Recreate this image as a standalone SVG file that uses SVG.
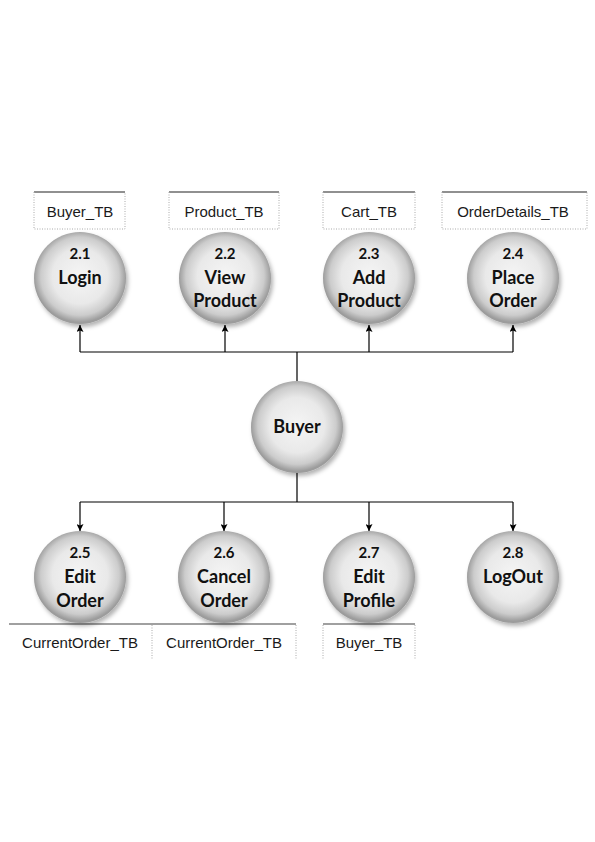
<svg xmlns="http://www.w3.org/2000/svg" width="595" height="842" viewBox="0 0 595 842">
<defs>
<radialGradient id="sph" cx="50%" cy="48%" r="50%">
<stop offset="0" stop-color="#f5f5f5"/>
<stop offset="0.6" stop-color="#e9e9e9"/>
<stop offset="0.85" stop-color="#cccccc"/>
<stop offset="1" stop-color="#9c9c9c"/>
</radialGradient>
<filter id="sh" x="-20%" y="-20%" width="150%" height="150%">
<feDropShadow dx="2" dy="3" stdDeviation="2" flood-color="#000" flood-opacity="0.3"/>
</filter>
<marker id="ah" viewBox="0 0 10 10" refX="10" refY="5" markerWidth="10" markerHeight="7" markerUnits="userSpaceOnUse" orient="auto">
<path d="M0,0 L10,5 L0,10 L2,5 Z" fill="#000"/>
</marker>
</defs>
<style>
.bub{fill:url(#sph);filter:url(#sh)}
.lbl{font-family:Lato,"Open Sans",sans-serif;font-weight:bold;font-size:18px;fill:#111;text-anchor:middle}
.num{font-size:15px}
.tb{font-family:"Liberation Sans",Arial,sans-serif;font-size:15px;fill:#1a1a1a;text-anchor:middle}
.dk{stroke:#222;stroke-width:1.2;fill:none}
.gr{stroke:#808080;stroke-width:1.6;fill:none}
.dot{stroke:#aaa;stroke-width:1;stroke-dasharray:1 1.5;fill:none}
.cn{stroke:#000;stroke-width:1.2;fill:none}
</style>
<rect width="595" height="842" fill="#fff"/>

<g id="stores">
<g id="store-buyer-top">
<line class="dk" x1="34" y1="192" x2="125" y2="192"/>
<path class="dot" d="M34,192 V229 H125 V192"/>
<text class="tb" x="80" y="217">Buyer_TB</text>
</g>
<g id="store-product">
<line class="dk" x1="169" y1="192" x2="279" y2="192"/>
<path class="dot" d="M169,192 V229 H279 V192"/>
<text class="tb" x="224" y="217">Product_TB</text>
</g>
<g id="store-cart">
<line class="dk" x1="323" y1="192" x2="415" y2="192"/>
<path class="dot" d="M323,192 V229 H415 V192"/>
<text class="tb" x="369" y="217">Cart_TB</text>
</g>
<g id="store-orderdetails">
<line class="dk" x1="442" y1="192" x2="587" y2="192"/>
<path class="dot" d="M442,192 V229 H587 V192"/>
<text class="tb" x="513" y="217">OrderDetails_TB</text>
</g>
<g id="store-current1">
<line class="gr" x1="9" y1="624" x2="152" y2="624"/>
<text class="tb" x="80" y="648">CurrentOrder_TB</text>
</g>
<g id="store-current2">
<line class="gr" x1="152" y1="624" x2="296" y2="624"/>
<path class="dot" d="M152,625 V660 M296,625 V660"/>
<text class="tb" x="224" y="648">CurrentOrder_TB</text>
</g>
<g id="store-buyer-bottom">
<line class="gr" x1="323" y1="624" x2="415" y2="624"/>
<path class="dot" d="M323,625 V660 M415,625 V660"/>
<text class="tb" x="369" y="648">Buyer_TB</text>
</g>
</g>

<g id="connectors">
<path class="cn" d="M297,382 V352 M80,352 H513"/>
<line class="cn" x1="80" y1="352" x2="80" y2="325" marker-end="url(#ah)"/>
<line class="cn" x1="225" y1="352" x2="225" y2="325" marker-end="url(#ah)"/>
<line class="cn" x1="369" y1="352" x2="369" y2="325" marker-end="url(#ah)"/>
<line class="cn" x1="513" y1="352" x2="513" y2="325" marker-end="url(#ah)"/>
<path class="cn" d="M297,473 V502 M80,502 H513"/>
<line class="cn" x1="80" y1="502" x2="80" y2="531" marker-end="url(#ah)"/>
<line class="cn" x1="224" y1="502" x2="224" y2="531" marker-end="url(#ah)"/>
<line class="cn" x1="369" y1="502" x2="369" y2="531" marker-end="url(#ah)"/>
<line class="cn" x1="513" y1="502" x2="513" y2="531" marker-end="url(#ah)"/>
</g>

<g id="p2_1"><circle class="bub" cx="80" cy="278" r="46"/>
<text class="lbl num" x="80" y="259">2.1</text><text class="lbl" x="80" y="284">Login</text></g>
<g id="p2_2"><circle class="bub" cx="225" cy="278" r="46"/>
<text class="lbl num" x="225" y="259">2.2</text><text class="lbl" x="225" y="284">View</text><text class="lbl" x="225" y="307">Product</text></g>
<g id="p2_3"><circle class="bub" cx="369" cy="278" r="46"/>
<text class="lbl num" x="369" y="259">2.3</text><text class="lbl" x="369" y="284">Add</text><text class="lbl" x="369" y="307">Product</text></g>
<g id="p2_4"><circle class="bub" cx="513" cy="278" r="46"/>
<text class="lbl num" x="513" y="259">2.4</text><text class="lbl" x="513" y="284">Place</text><text class="lbl" x="513" y="307">Order</text></g>

<g id="buyer"><circle class="bub" cx="297" cy="427" r="46"/>
<text class="lbl" x="297" y="433">Buyer</text></g>

<g id="p2_5"><circle class="bub" cx="80" cy="577" r="46"/>
<text class="lbl num" x="80" y="558">2.5</text><text class="lbl" x="80" y="583">Edit</text><text class="lbl" x="80" y="607">Order</text></g>
<g id="p2_6"><circle class="bub" cx="224" cy="577" r="46"/>
<text class="lbl num" x="224" y="558">2.6</text><text class="lbl" x="224" y="583">Cancel</text><text class="lbl" x="224" y="607">Order</text></g>
<g id="p2_7"><circle class="bub" cx="369" cy="577" r="46"/>
<text class="lbl num" x="369" y="558">2.7</text><text class="lbl" x="369" y="583">Edit</text><text class="lbl" x="369" y="607">Profile</text></g>
<g id="p2_8"><circle class="bub" cx="513" cy="577" r="46"/>
<text class="lbl num" x="513" y="558">2.8</text><text class="lbl" x="513" y="583">LogOut</text></g>
</svg>
